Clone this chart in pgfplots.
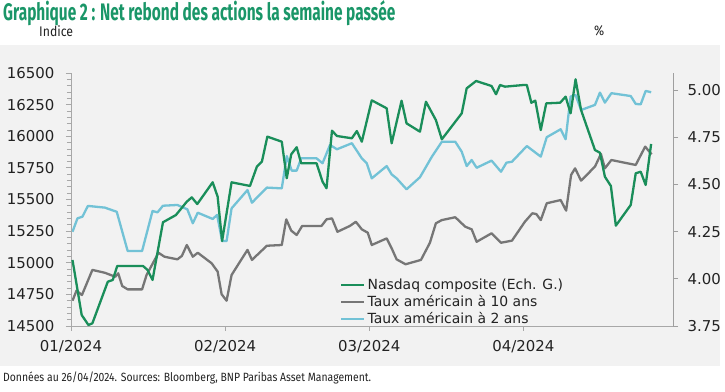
\documentclass[border=0pt]{standalone}
\usepackage{pgfplots}
\pgfplotsset{compat=1.18}
\usepackage{fontspec}
\setmainfont{Fira Sans}
\newfontfamily\dejavu{DejaVu Sans}
\definecolor{nasgreen}{HTML}{1A8E5A}
\definecolor{titlegreen}{HTML}{1A9668}
\definecolor{tgrey}{HTML}{767676}
\definecolor{tblue}{HTML}{72C2D6}
\definecolor{bggrey}{HTML}{F2F2F2}
\definecolor{axgrey}{HTML}{A8A8A8}
\definecolor{txtgrey}{HTML}{222222}

\begin{document}
\begin{tikzpicture}
\useasboundingbox (0bp,0bp) rectangle (725bp,392bp);
\fill[bggrey] (0bp,26bp) rectangle (720bp,347bp);
\node[anchor=west, text=titlegreen, font=\bfseries\fontsize{24}{28}\selectfont, inner sep=0pt] at (3bp,379bp) {\scalebox{0.645}[1]{Graphique 2 : Net rebond des actions la semaine passée}};
\node[anchor=west, text=txtgrey, font=\fontsize{14}{16}\selectfont, inner sep=0pt] at (39bp,361bp) {\scalebox{0.88}[1]{Indice}};
\node[anchor=west, text=txtgrey, font=\fontsize{14}{16}\selectfont, inner sep=0pt] at (594bp,361bp) {\scalebox{0.88}[1]{\%}};
\node[anchor=west, text=txtgrey, font=\fontsize{12}{14}\selectfont, inner sep=0pt] at (3bp,14bp) {\scalebox{0.87}[1]{Données au 26/04/2024. Sources: Bloomberg, BNP Paribas Asset Management.}};

% right axis: rates
\begin{axis}[
  at={(71bp,66bp)}, anchor=south west, scale only axis,
  width=602bp, height=253bp,
  xmin=0, xmax=121.1, ymin=3.75, ymax=5.09,
  axis y line*=right, hide x axis,
  y axis line style={-, draw=gray!75, line width=0.8pt},
  ytick={3.75,4.00,4.25,4.50,4.75,5.00},
  /pgf/number format/fixed, /pgf/number format/fixed zerofill, /pgf/number format/precision=2,
  /pgf/number format/assume math mode=true,
  ticklabel style={font=\dejavu\fontsize{15}{18}\selectfont, text=txtgrey},
  tick align=outside, major tick length=5bp,
  every tick/.style={draw=gray!75, line width=0.8pt},
  yticklabel style={xshift=6bp},
  clip=false,
]
\addplot[tgrey, line width=2.3bp, line join=round] coordinates {
(0.3,3.884) (1.1,3.937) (2.2,3.914) (4.3,4.047) (6.8,4.032) (8.9,4.011) (9.5,4.029) (10.3,3.962) (11.4,3.944) (14.3,3.944) (15.2,4.020) (17.6,4.138) (18.8,4.117) (21.4,4.103) (22.3,4.121) (23.3,4.179) (24.5,4.117) (25.5,4.138) (28.3,4.082) (29.5,4.038) (30.3,3.918) (31.3,3.884) (32.3,4.020) (34.0,4.091) (35.5,4.153) (36.4,4.100) (39.4,4.175) (42.4,4.179) (43.3,4.315) (44.3,4.255) (45.4,4.232) (46.5,4.280) (50.4,4.280) (51.4,4.315) (52.5,4.320) (53.6,4.249) (56.1,4.280) (57.3,4.302) (58.5,4.262) (59.7,4.244) (60.5,4.179) (63.5,4.214) (64.5,4.162) (65.5,4.103) (67.3,4.077) (70.4,4.100) (72.2,4.191) (73.4,4.294) (74.6,4.311) (77.3,4.326) (79.3,4.276) (80.6,4.262) (81.6,4.196) (84.6,4.241) (86.5,4.191) (88.7,4.202) (91.3,4.302) (92.8,4.347) (93.6,4.343) (94.5,4.311) (95.7,4.400) (98.5,4.417) (99.6,4.361) (100.6,4.550) (101.4,4.585) (102.6,4.520) (105.4,4.594) (106.6,4.661) (107.4,4.585) (108.7,4.629) (113.6,4.603) (115.5,4.700) (116.8,4.659)
};
\addplot[tblue, line width=2.3bp, line join=round] coordinates {
(0.3,4.249) (1.3,4.320) (2.3,4.329) (3.4,4.386) (6.8,4.377) (9.2,4.355) (11.4,4.147) (14.3,4.147) (16.4,4.359) (17.4,4.352) (18.5,4.387) (21.4,4.391) (23.4,4.368) (24.5,4.294) (25.5,4.350) (28.5,4.317) (29.4,4.338) (30.4,4.200) (31.3,4.200) (32.3,4.373) (35.5,4.470) (36.4,4.403) (39.4,4.483) (42.4,4.479) (43.4,4.650) (44.4,4.573) (45.4,4.573) (46.3,4.638) (49.4,4.638) (50.6,4.612) (52.1,4.709) (53.5,4.686) (56.5,4.718) (58.5,4.638) (59.5,4.612) (60.5,4.532) (63.5,4.597) (64.5,4.553) (65.5,4.532) (67.5,4.474) (70.2,4.538) (72.6,4.647) (74.6,4.726) (77.3,4.726) (78.6,4.673) (79.6,4.597) (80.6,4.629) (81.6,4.588) (84.6,4.626) (86.5,4.567) (87.6,4.615) (88.7,4.620) (91.7,4.703) (94.5,4.647) (95.7,4.750) (98.5,4.792) (99.5,4.739) (100.5,4.965) (101.5,4.974) (102.6,4.894) (105.4,4.921) (106.4,4.986) (107.4,4.933) (108.7,4.983) (112.6,4.968) (113.6,4.926) (114.6,4.924) (115.6,4.995) (116.7,4.988)
};
\end{axis}

% left axis: Nasdaq
\begin{axis}[
  at={(71bp,66bp)}, anchor=south west, scale only axis,
  width=602bp, height=253bp,
  xmin=0, xmax=121.1, ymin=14500, ymax=16500,
  axis y line*=left, axis x line*=bottom,
  x axis line style={-, draw=axgrey, line width=1pt},
  y axis line style={-, draw=axgrey, line width=1pt},
  xtick={0,31,60,91},
  xticklabels={01/2024,02/2024,03/2024,04/2024},
  ytick={14500,14750,...,16500},
  minor ytick={14550,14600,...,16450},
  scaled y ticks=false,
  /pgf/number format/fixed, /pgf/number format/set thousands separator={},
  /pgf/number format/assume math mode=true,
  ticklabel style={font=\dejavu\fontsize{15}{18}\selectfont, text=txtgrey},
  tick align=outside, major tick length=5bp, minor tick length=4bp,
  every tick/.style={draw=axgrey, line width=0.8pt},
  yticklabel style={xshift=-8bp}, xticklabel style={yshift=-6bp},
  legend style={at={(0.447,0.195)}, anchor=north west, draw=none, fill=none,
    font=\dejavu\fontsize{14}{16}\selectfont, text=txtgrey, row sep=0.5bp, inner sep=0pt},
  legend cell align=left,
  legend image code/.code={\draw[#1] (0bp,0bp) -- (23bp,0bp);},
  clip=false,
]
\addplot[nasgreen, line width=2.3bp, line join=round] coordinates {
(0.3,15022) (2.15,14587) (3.5,14508) (4.3,14521) (7.4,14850) (8.4,14864) (9.3,14974) (14.5,14974) (15.4,14943) (16.4,14864) (18.5,15320) (21.1,15377) (23.3,15483) (24.3,15517) (25.4,15464) (28.5,15636) (29.5,15522) (30.4,15172) (32.3,15636) (36.0,15607) (37.4,15760) (38.4,15799) (39.5,15997) (42.4,15957) (43.4,15668) (44.3,15857) (45.4,15913) (46.3,15786) (49.4,15786) (50.6,15641) (51.4,15589) (52.5,16044) (53.5,16002) (56.5,15984) (57.5,16041) (58.5,15957) (60.5,16284) (63.5,16221) (64.5,15944) (66.5,16281) (67.5,16102) (70.2,16036) (71.4,16273) (73.4,16128) (74.6,15976) (78.6,16181) (79.6,16379) (81.5,16437) (84.6,16397) (85.5,16332) (86.3,16405) (87.3,16392) (91.0,16405) (91.7,16405) (92.6,16265) (93.4,16281) (94.5,16049) (95.6,16260) (98.4,16265) (99.5,16313) (100.5,16181) (101.5,16450) (102.6,16208) (105.4,15891) (106.4,15870) (107.4,15680) (108.6,15607) (109.6,15293) (112.6,15457) (113.6,15707) (114.6,15720) (115.6,15615) (116.7,15939)
};
\addlegendentry{Nasdaq composite (Ech. G.)}
\addlegendimage{tgrey, line width=2.3bp}
\addlegendentry{Taux américain à 10 ans}
\addlegendimage{tblue, line width=2.3bp}
\addlegendentry{Taux américain à 2 ans}
\end{axis}
\end{tikzpicture}
\end{document}
